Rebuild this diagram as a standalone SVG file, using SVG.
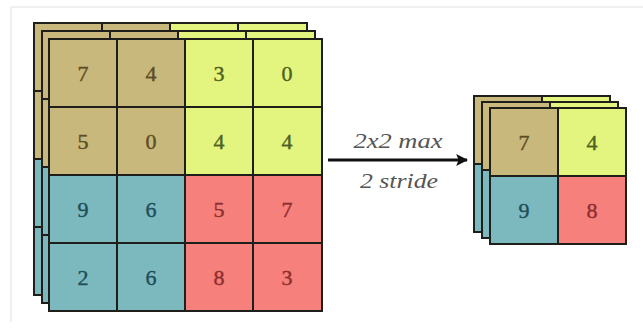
<svg xmlns="http://www.w3.org/2000/svg" width="643" height="329" viewBox="0 0 643 329">
<defs>
<style>
.tan{fill:#c9b87c}
.yel{fill:#e3f57e}
.teal{fill:#7bb9bf}
.red{fill:#f5807c}
.edge{fill:none;stroke:#1e1e1a;stroke-width:2}
.num{font-family:"Liberation Serif",serif;font-size:22px;text-anchor:middle;stroke-width:0.4}
.nt{fill:#5e4c26;stroke:#5e4c26}
.ny{fill:#4e6222;stroke:#4e6222}
.nc{fill:#1f4e58;stroke:#1f4e58}
.nr{fill:#8d2e2e;stroke:#8d2e2e}
.lbl{font-family:"Liberation Serif",serif;font-style:italic;font-size:21px;fill:#555555;text-anchor:middle}
</style>
<marker id="ah" viewBox="0 0 10 10" refX="9" refY="5" markerWidth="4" markerHeight="4" orient="auto" markerUnits="strokeWidth">
<path d="M0,0 L10,5 L0,10 L2,5 Z" fill="#111"/>
</marker>
<g id="big">
<rect class="tan" x="0" y="0" width="136" height="136"/>
<rect class="yel" x="136" y="0" width="137" height="136"/>
<rect class="teal" x="0" y="136" width="136" height="136"/>
<rect class="red" x="136" y="136" width="137" height="136"/>
<path class="edge" d="M68,0V272M136,0V272M204,0V272M0,68H273M0,136H273M0,204H273"/>
<rect class="edge" x="0" y="0" width="273" height="272"/>
</g>
<g id="small">
<rect class="tan" x="0" y="0" width="68" height="68"/>
<rect class="yel" x="68" y="0" width="68" height="68"/>
<rect class="teal" x="0" y="68" width="68" height="68"/>
<rect class="red" x="68" y="68" width="68" height="68"/>
<path class="edge" d="M68,0V136M0,68H136"/>
<rect class="edge" x="0" y="0" width="136" height="136"/>
</g>
</defs>
<rect x="0" y="0" width="643" height="329" fill="#ffffff"/>
<path d="M11,7H643M11,7V322" fill="none" stroke="#ececec" stroke-width="1.5"/>

<g id="input-map">
<use href="#big" x="34" y="23"/>
<use href="#big" x="42" y="31"/>
<use href="#big" x="49" y="39"/>
<g class="num">
<text class="nt" x="83" y="81">7</text>
<text class="nt" x="151" y="81">4</text>
<text class="ny" x="219" y="81">3</text>
<text class="ny" x="287" y="81">0</text>
<text class="nt" x="83" y="149">5</text>
<text class="nt" x="151" y="149">0</text>
<text class="ny" x="219" y="149">4</text>
<text class="ny" x="287" y="149">4</text>
<text class="nc" x="83" y="217">9</text>
<text class="nc" x="151" y="217">6</text>
<text class="nr" x="219" y="217">5</text>
<text class="nr" x="287" y="217">7</text>
<text class="nc" x="83" y="285">2</text>
<text class="nc" x="151" y="285">6</text>
<text class="nr" x="219" y="285">8</text>
<text class="nr" x="287" y="285">3</text>
</g>
</g>

<g id="output-map">
<use href="#small" x="474" y="96"/>
<use href="#small" x="482" y="102"/>
<use href="#small" x="490" y="108"/>
<g class="num">
<text class="nt" x="524" y="150">7</text>
<text class="ny" x="592" y="150">4</text>
<text class="nc" x="524" y="218">9</text>
<text class="nr" x="592" y="218">8</text>
</g>
</g>

<g id="connectors">
<line x1="328" y1="160" x2="467" y2="160" stroke="#111" stroke-width="3" marker-end="url(#ah)"/>
<text class="lbl" x="398" y="148" textLength="89" lengthAdjust="spacingAndGlyphs">2x2 max</text>
<text class="lbl" x="399" y="188" textLength="78" lengthAdjust="spacingAndGlyphs">2 stride</text>
</g>
</svg>
